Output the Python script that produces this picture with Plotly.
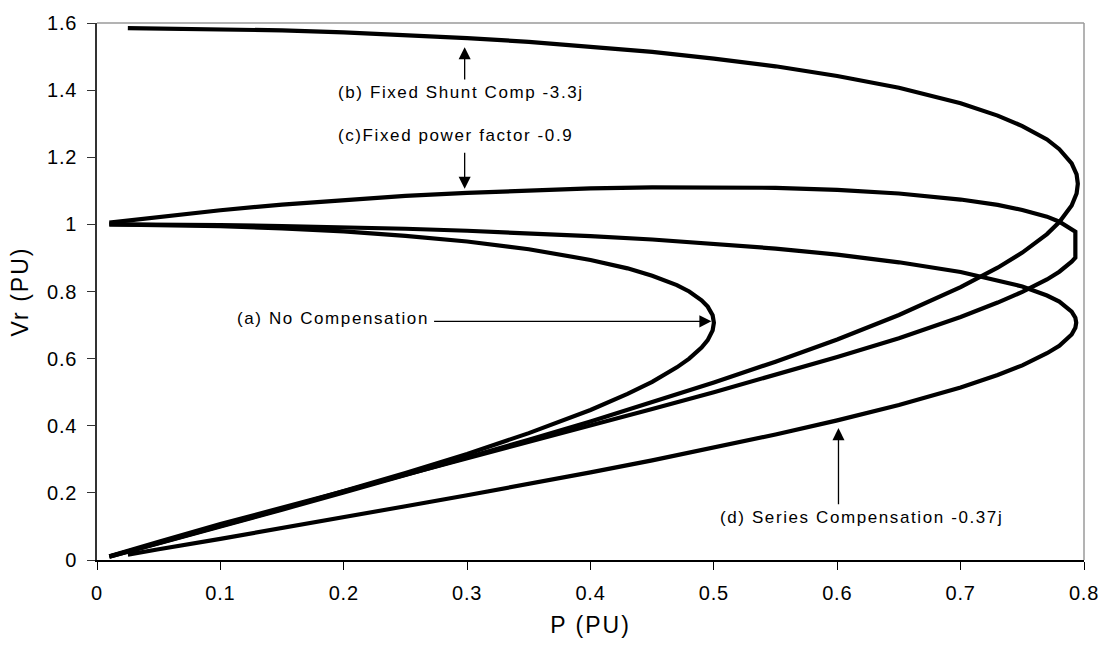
import plotly.graph_objects as go

# ---- data (P in PU, Vr in PU) ----
# (a) No Compensation: upper branch -> nose -> lower branch
a_P = [0.01, 0.05, 0.10, 0.15, 0.20, 0.25, 0.30, 0.35, 0.40, 0.43, 0.45, 0.47, 0.48, 0.49, 0.495, 0.499, 0.50,
       0.499, 0.495, 0.49, 0.48, 0.47, 0.45, 0.43, 0.40, 0.35, 0.30, 0.25, 0.20, 0.15, 0.10, 0.05, 0.01]
a_V = [1.000, 0.999, 0.995, 0.988, 0.979, 0.966, 0.949, 0.926, 0.894, 0.869, 0.847, 0.819, 0.800, 0.774, 0.755, 0.729, 0.707,
       0.684, 0.655, 0.633, 0.600, 0.574, 0.531, 0.495, 0.447, 0.378, 0.316, 0.259, 0.204, 0.152, 0.101, 0.050, 0.010]

# (b) Fixed Shunt Comp -3.3j
b_P = [0.025, 0.05, 0.10, 0.15, 0.20, 0.25, 0.30, 0.35, 0.40, 0.45, 0.50, 0.55, 0.60, 0.65, 0.70, 0.73, 0.75, 0.77, 0.78, 0.79, 0.794, 0.795,
       0.794, 0.79, 0.78, 0.77, 0.75, 0.73, 0.70, 0.65, 0.60, 0.55, 0.50, 0.45, 0.40, 0.35, 0.30, 0.25, 0.20, 0.15, 0.10, 0.05, 0.01]
b_V = [1.585, 1.584, 1.582, 1.578, 1.572, 1.565, 1.555, 1.544, 1.530, 1.514, 1.494, 1.471, 1.442, 1.407, 1.361, 1.324, 1.293, 1.253, 1.224, 1.182, 1.149, 1.121,
       1.092, 1.056, 1.007, 0.971, 0.916, 0.871, 0.813, 0.730, 0.657, 0.591, 0.529, 0.470, 0.413, 0.358, 0.305, 0.252, 0.201, 0.150, 0.100, 0.050, 0.010]

# (c) Fixed power factor -0.9
c_P = [0.01, 0.05, 0.10, 0.15, 0.20, 0.25, 0.30, 0.35, 0.40, 0.45, 0.50, 0.55, 0.60, 0.65, 0.70, 0.73, 0.75, 0.77, 0.78, 0.79, 0.793,
       0.793, 0.79, 0.78, 0.77, 0.75, 0.73, 0.70, 0.65, 0.60, 0.55, 0.50, 0.45, 0.40, 0.35, 0.30, 0.25, 0.20, 0.15, 0.10, 0.05, 0.01]
c_V = [1.005, 1.022, 1.042, 1.059, 1.073, 1.085, 1.094, 1.102, 1.107, 1.110, 1.111, 1.109, 1.103, 1.092, 1.074, 1.058, 1.043, 1.023, 1.008, 0.987, 0.978,
       0.901, 0.889, 0.859, 0.836, 0.799, 0.767, 0.724, 0.661, 0.605, 0.551, 0.500, 0.450, 0.401, 0.353, 0.305, 0.257, 0.207, 0.157, 0.107, 0.054, 0.011]

# (d) Series Compensation -0.37j
d_P = [0.01, 0.05, 0.10, 0.15, 0.20, 0.25, 0.30, 0.35, 0.40, 0.45, 0.50, 0.55, 0.60, 0.65, 0.70, 0.73, 0.75, 0.77, 0.78, 0.79, 0.793, 0.7937,
       0.793, 0.79, 0.78, 0.77, 0.75, 0.73, 0.70, 0.65, 0.60, 0.55, 0.50, 0.45, 0.40, 0.35, 0.30, 0.25, 0.20, 0.15, 0.10, 0.05, 0.025]
d_V = [1.000, 1.000, 0.998, 0.995, 0.992, 0.987, 0.981, 0.974, 0.965, 0.955, 0.943, 0.928, 0.910, 0.887, 0.858, 0.834, 0.815, 0.788, 0.770, 0.740, 0.722, 0.707,
       0.692, 0.672, 0.638, 0.616, 0.580, 0.551, 0.514, 0.462, 0.416, 0.374, 0.334, 0.297, 0.261, 0.226, 0.193, 0.160, 0.127, 0.095, 0.063, 0.032, 0.016]

x_ticks = [0, 0.1, 0.2, 0.3, 0.4, 0.5, 0.6, 0.7, 0.8]
x_labels = ["0", "0.1", "0.2", "0.3", "0.4", "0.5", "0.6", "0.7", "0.8"]
y_ticks = [0, 0.2, 0.4, 0.6, 0.8, 1.0, 1.2, 1.4, 1.6]
y_labels = ["0", "0.2", "0.4", "0.6", "0.8", "1", "1.2", "1.4", "1.6"]

# labels: text, text position (left edge, middle), arrow tail, arrow tip
labels = ["(a) No Compensation", "(b) Fixed Shunt Comp -3.3j",
          "(c)Fixed power factor -0.9", "(d) Series Compensation -0.37j"]
label_x = [0.112, 0.194, 0.194, 0.503]
label_y = [0.721, 1.392, 1.266, 0.126]
tail_x = [0.272, 0.298, 0.298, 0.601]
tail_y = [0.711, 1.427, 1.218, 0.162]
tip_x = [0.498, 0.298, 0.298, 0.601]
tip_y = [0.711, 1.528, 1.106, 0.393]

fig = go.Figure()
for P, V, nm in [(a_P, a_V, "a"), (b_P, b_V, "b"), (c_P, c_V, "c"), (d_P, d_V, "d")]:
    fig.add_trace(go.Scatter(x=P, y=V, mode="lines", name=nm,
                             line=dict(color="black", width=4.2), hoverinfo="skip"))

ann = []
for t, lx, ly in zip(labels, label_x, label_y):
    ann.append(dict(x=lx, y=ly, xref="x", yref="y", text=t, showarrow=False,
                    xanchor="left", yanchor="middle", align="left",
                    font=dict(size=17, color="black")))
for tx, ty, hx, hy in zip(tail_x, tail_y, tip_x, tip_y):
    ann.append(dict(x=hx, y=hy, xref="x", yref="y", ax=tx, ay=ty, axref="x", ayref="y",
                    text="", showarrow=True, arrowhead=2, arrowsize=1.85, arrowwidth=1.3,
                    arrowcolor="black", standoff=0, startstandoff=0))

fig.update_layout(
    width=1110, height=646,
    margin=dict(l=97, r=18, t=15, b=81),
    paper_bgcolor="white", plot_bgcolor="white",
    showlegend=False,
    font=dict(family="Liberation Sans, Arial, sans-serif", color="black"),
    annotations=ann,
    shapes=[
        dict(type="line", xref="paper", yref="paper", x0=0, x1=1, y0=1, y1=1,
             line=dict(color="#9a9a9a", width=1.5)),
        dict(type="line", xref="paper", yref="paper", x0=1, x1=1, y0=0, y1=1,
             line=dict(color="#9a9a9a", width=1.5)),
    ],
)
fig.update_xaxes(range=[0, 0.8], tickvals=x_ticks, ticktext=x_labels,
                 ticks="outside", ticklen=8, tickwidth=1.2, tickcolor="black",
                 showline=True, linecolor="black", linewidth=1.5,
                 showgrid=False, zeroline=False,
                 tickfont=dict(size=20), ticklabelstandoff=6,
                 title=dict(text="P (PU)", font=dict(size=23), standoff=14))
fig.update_yaxes(range=[0, 1.6], tickvals=y_ticks, ticktext=y_labels,
                 ticks="outside", ticklen=8, tickwidth=1.2, tickcolor="#333333",
                 showline=True, linecolor="#333333", linewidth=1.5,
                 showgrid=False, zeroline=False,
                 tickfont=dict(size=20), ticklabelstandoff=6,
                 title=dict(text="Vr (PU)", font=dict(size=23), standoff=14))

post = """
var s = document.createElement('style');
s.textContent = '.annotation-text{letter-spacing:1.6px}.xtitle,.ytitle{letter-spacing:2px}.xtick text,.ytick text{letter-spacing:0.8px}';
document.head.appendChild(s);
"""
fig.write_html("out.html", post_script=post)
